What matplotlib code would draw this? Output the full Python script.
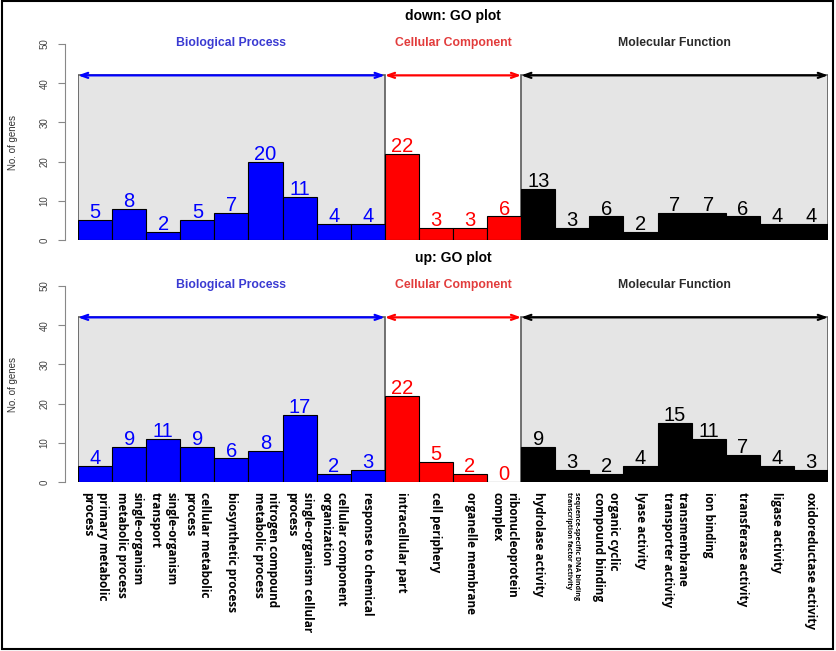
import numpy as np
import matplotlib.pyplot as plt
from matplotlib.patches import Rectangle

# GO terms, in plot order (BP, CC, MF)
go_terms = [
    'primary metabolic\nprocess',
    'single-organism\nmetabolic process',
    'single-organism\ntransport',
    'cellular metabolic\nprocess',
    'biosynthetic process',
    'nitrogen compound\nmetabolic process',
    'single-organism cellular\nprocess',
    'cellular component\norganization',
    'response to chemical',
    'intracellular part',
    'cell periphery',
    'organelle membrane',
    'ribonucleoprotein\ncomplex',
    'hydrolase activity',
    'sequence-specific DNA binding\ntranscription factor activity',
    'organic cyclic\ncompound binding',
    'lyase activity',
    'transmembrane\ntransporter activity',
    'ion binding',
    'transferase activity',
    'ligase activity',
    'oxidoreductase activity',
]
groups = ['Biological Process', 'Cellular Component', 'Molecular Function']
group_sizes = [9, 4, 9]
group_colors = ['#0000ff', '#ff0000', '#000000']
header_colors = ['#3a3ad2', '#e23c3c', '#2a2a2a']

down_counts = [5, 8, 2, 5, 7, 20, 11, 4, 4,
               22, 3, 3, 6,
               13, 3, 6, 2, 7, 7, 6, 4, 4]
up_counts = [4, 9, 11, 9, 6, 8, 17, 2, 3,
             22, 5, 2, 0,
             9, 3, 2, 4, 15, 11, 7, 4, 3]

W, H = 836, 651
fig = plt.figure(figsize=(W / 100, H / 100), dpi=100)
plt.rcParams['font.family'] = ['Liberation Sans', 'DejaVu Sans']


def px_axes(top, bottom):
    # axes placed by pixel rows (y=50 at top, y=0 at bottom)
    return fig.add_axes([78 / W, 1 - bottom / H, 750 / W, (bottom - top) / H])


def draw_panel(ax, counts, title):
    colors = np.repeat(group_colors, group_sizes)
    x = np.arange(len(counts)) + 0.5

    start = 0
    for i, (name, size) in enumerate(zip(groups, group_sizes)):
        end = start + size
        if i != 1:
            ax.add_patch(Rectangle((start, 0), size, 42, facecolor='#e5e5e5',
                                   edgecolor='#5a5a5a', lw=1.2, zorder=0))
        ax.annotate('', xy=(end, 42), xytext=(start, 42),
                    arrowprops=dict(arrowstyle='<->,head_length=0.5,head_width=0.18',
                                    color=group_colors[i], lw=1.6,
                                    shrinkA=0, shrinkB=0), zorder=3)
        ax.text((start + end) / 2, 50.2, name, color=header_colors[i],
                ha='center', va='center', fontsize=8.8, fontweight='bold',
                clip_on=False)
        start = end

    ax.bar(x, counts, width=1, color=colors, edgecolor='black', lw=0.8, zorder=2)
    for xi, c, col in zip(x, counts, colors):
        ax.text(xi, c + 1.9, str(c), color=col, ha='center', va='center',
                fontsize=14.5, zorder=4, clip_on=False)

    ax.text(11, 57.1, title, ha='center', va='center', fontsize=10,
            fontweight='bold', clip_on=False)

    ax.set_xlim(0, 22)
    ax.set_ylim(0, 50)
    for s in ['top', 'right', 'bottom']:
        ax.spines[s].set_visible(False)
    ax.spines['left'].set_position(('outward', 9.4))
    ax.spines['left'].set_color('#888888')
    ax.set_yticks([0, 10, 20, 30, 40, 50])
    ax.tick_params(axis='y', colors='#888888', labelcolor='#444444',
                   labelsize=7, length=5, pad=6)
    plt.setp(ax.get_yticklabels(), rotation=90, va='center')
    ax.set_xticks([])

    pos = ax.get_position()
    fig.text(13 / W, pos.y0 + pos.height / 2, 'No. of genes', rotation=90,
             ha='center', va='center', fontsize=7, color='#333333')
    return x


ax1 = px_axes(44, 240)
draw_panel(ax1, down_counts, 'down: GO plot')

ax2 = px_axes(286, 482)
x = draw_panel(ax2, up_counts, 'up: GO plot')
ax2.set_xticks(x)
ax2.set_xticklabels(go_terms, rotation=270, va='top', ha='center',
                    multialignment='left', fontsize=8.5, fontweight='bold',
                    family='Open Sans')
ax2.tick_params(axis='x', length=0, pad=7)
ax2.get_xticklabels()[14].set_fontsize(5)

# outer frame
fig.add_artist(Rectangle((1.5 / W, 2 / H), 831 / W, 648 / H, transform=fig.transFigure,
                         fill=False, edgecolor='black', lw=1.5))

fig.savefig('out.png', dpi=100)
